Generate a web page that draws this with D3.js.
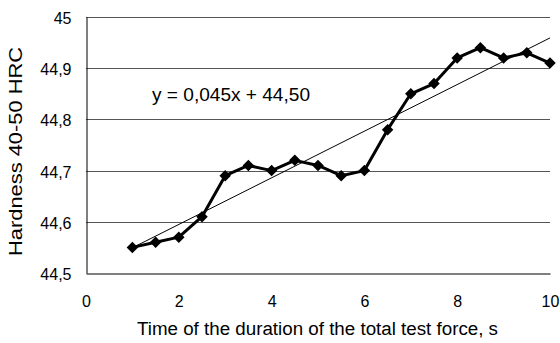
<!DOCTYPE html>
<html lang="en">
<head>
    <meta charset="utf-8">
    <script src="https://d3js.org/d3.v7.min.js"></script>
    <style>
        body { margin: 0; background: #fff; }
        text { font-family: "Liberation Sans", Arial, sans-serif; fill: #000; }
    </style>
</head>
<body>
<script>
    // time of the total test force, s
    const times = [1, 1.5, 2, 2.5, 3, 3.5, 4, 4.5, 5, 5.5, 6, 6.5, 7, 7.5, 8, 8.5, 9, 9.5, 10];
    // hardness readings, HRC
    const hardness = [44.55, 44.56, 44.57, 44.61, 44.69, 44.71, 44.70, 44.72, 44.71, 44.69,
                      44.70, 44.78, 44.85, 44.87, 44.92, 44.94, 44.92, 44.93, 44.91];
    const xTicks = [0, 2, 4, 6, 8, 10];
    const yTicks = [44.5, 44.6, 44.7, 44.8, 44.9, 45];
    const equation = "y = 0,045x + 44,50";

    const W = 560, H = 343;
    const margin = {top: 17, right: 10, bottom: 70, left: 86};
    const width = W - margin.left - margin.right;
    const height = H - margin.top - margin.bottom;

    const svg = d3.select("body").append("svg")
        .attr("width", W)
        .attr("height", H);

    const g = svg.append("g")
        .attr("transform", "translate(" + margin.left + "," + margin.top + ")");

    const x = d3.scaleLinear().domain([0, 10]).range([0, width]);
    const y = d3.scaleLinear().domain([44.5, 45]).range([height, 0]);

    const fmt = d => d3.format("")(d).replace(".", ",");

    // gridlines
    g.selectAll(".grid")
        .data(yTicks.slice(1))
        .enter().append("line")
        .attr("x1", 0).attr("x2", width)
        .attr("y1", d => Math.round(y(d)) + 0.5)
        .attr("y2", d => Math.round(y(d)) + 0.5)
        .attr("stroke", "#555")
        .attr("stroke-width", 1);

    // y axis
    const yAxis = g.append("g")
        .attr("transform", "translate(0.5,0)")
        .call(d3.axisLeft(y).tickValues(yTicks).tickFormat(fmt).tickSize(0).tickPadding(15));
    yAxis.select(".domain").attr("stroke", "#000");
    yAxis.selectAll("text").style("font-size", "16px").attr("dy", "0.4em");

    // x axis
    const xAxis = g.append("g")
        .attr("transform", "translate(0," + (Math.round(height) + 0.5) + ")")
        .call(d3.axisBottom(x).tickValues(xTicks).tickFormat(d3.format("d")).tickSize(0).tickPadding(22));
    xAxis.select(".domain").attr("stroke", "#000");
    xAxis.selectAll("text").style("font-size", "16px");

    // linear trend fitted to the readings
    const pts = times.map((t, i) => ({t: t, v: hardness[i]}));
    const mt = d3.mean(times), mv = d3.mean(hardness);
    const slope = d3.sum(pts, p => (p.t - mt) * (p.v - mv)) / d3.sum(pts, p => (p.t - mt) ** 2);
    const icpt = mv - slope * mt;
    const tEnds = d3.extent(times);

    g.append("line")
        .attr("x1", x(tEnds[0])).attr("y1", y(icpt + slope * tEnds[0]))
        .attr("x2", x(tEnds[1])).attr("y2", y(icpt + slope * tEnds[1]))
        .attr("stroke", "#000")
        .attr("stroke-width", 1);

    // data line
    g.append("path")
        .datum(pts)
        .attr("fill", "none")
        .attr("stroke", "#000")
        .attr("stroke-width", 3)
        .attr("stroke-linejoin", "round")
        .attr("d", d3.line().x(d => x(d.t)).y(d => y(d.v)));

    // diamond markers
    g.selectAll(".mark")
        .data(pts)
        .enter().append("path")
        .attr("d", d3.symbol().type(d3.symbolSquare).size(66))
        .attr("transform", d => "translate(" + x(d.t) + "," + y(d.v) + ") rotate(45)")
        .attr("fill", "#000");

    // equation label
    svg.append("text")
        .attr("x", 152)
        .attr("y", 101)
        .attr("textLength", 158)
        .attr("lengthAdjust", "spacingAndGlyphs")
        .style("font-size", "18px")
        .text(equation);

    // axis titles
    svg.append("text")
        .attr("x", 137)
        .attr("y", 335)
        .attr("textLength", 361)
        .attr("lengthAdjust", "spacingAndGlyphs")
        .style("font-size", "18px")
        .text("Time of the duration of the total test force, s");

    svg.append("text")
        .attr("transform", "translate(22,256) rotate(-90)")
        .attr("textLength", 209)
        .attr("lengthAdjust", "spacingAndGlyphs")
        .style("font-size", "18px")
        .text("Hardness 40-50 HRC");
</script>
</body>
</html>
